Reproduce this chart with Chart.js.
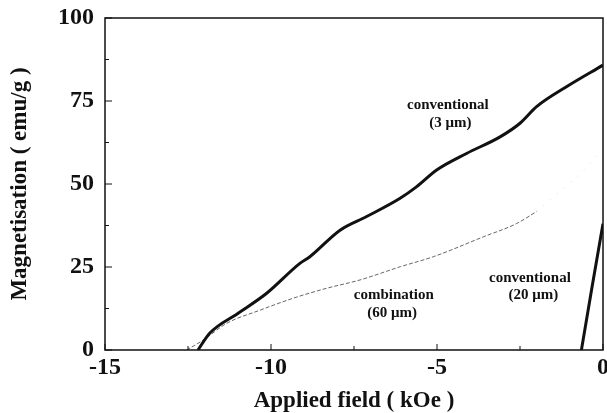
<!DOCTYPE html>
<html lang="en">
<head>
    <meta charset="UTF-8">
    <title>Magnetisation vs applied field</title>
    <script src="https://cdn.jsdelivr.net/npm/chart.js"></script>
    <style>
        html, body { margin: 0; padding: 0; background: #fff; }
        .chart-container { width: 607px; height: 413px; position: relative; }
    </style>
</head>
<body>
    <div class="chart-container">
        <canvas id="magChart"></canvas>
    </div>

    <script>
        // Curves (x in kOe, y in emu/g)
        var conv3X = [-12.2, -11.84, -11.0, -10.13, -9.13, -8.83, -7.92, -7.12, -6.11, -5.61, -5.01, -4.11, -3.1, -2.5, -2.0, -1.1, 0];
        var conv3Y = [0, 5.1, 11.0, 17.1, 26.1, 28.1, 36.1, 40.2, 45.7, 49.2, 54.2, 59.2, 64.2, 68.3, 73.3, 79.3, 85.8];

        var combX = [-12.54, -12.04, -11.34, -10.33, -9.33, -8.32, -7.32, -6.1, -5.11, -3.6, -2.6, -2.0];
        var combY = [0, 3.0, 8.0, 12.0, 15.6, 18.6, 21.1, 25.1, 28.1, 34.1, 38.1, 41.7];

        // faint tail of the combination curve
        var combTailX = [-2.0, -0.64, -0.03];
        var combTailY = [41.7, 53.3, 60.2];

        var conv20X = [-0.65, -0.33, 0];
        var conv20Y = [0, 19, 38];

        var yTicks = [0, 25, 50, 75, 100];
        var xTicks = [-15, -10, -5, 0];

        // curve labels, in data coordinates
        var labels = [
            { text: 'conventional', x: -4.67, y: 73.8 },
            { text: '(3 \u03bcm)', x: -4.6, y: 68.4 },
            { text: 'combination', x: -6.3, y: 16.6 },
            { text: '(60 \u03bcm)', x: -6.35, y: 11.2 },
            { text: 'conventional', x: -2.2, y: 21.7 },
            { text: '(20 \u03bcm)', x: -2.1, y: 16.6 }
        ];

        function toPoints(xs, ys) {
            return xs.map(function(x, i) { return { x: x, y: ys[i] }; });
        }

        var serif = "'Liberation Serif', 'Times New Roman', serif";

        // box around the plot plus inward tick marks
        var framePlugin = {
            id: 'frame',
            afterDatasetsDraw: function(chart) {
                var ctx = chart.ctx;
                var a = chart.chartArea;
                var xs = chart.scales.x, ys = chart.scales.y;
                ctx.save();
                ctx.strokeStyle = '#111';
                ctx.lineWidth = 1.5;
                ctx.strokeRect(a.left, a.top, a.right - a.left, a.bottom - a.top);
                ctx.lineWidth = 1;
                var v, p;
                for (v = 0; v <= 100; v += 12.5) {
                    p = ys.getPixelForValue(v);
                    ctx.beginPath();
                    ctx.moveTo(a.left, p);
                    ctx.lineTo(a.left + (v % 25 === 0 ? 7 : 4), p);
                    ctx.stroke();
                }
                for (v = -15; v <= 0; v += 2.5) {
                    p = xs.getPixelForValue(v);
                    ctx.beginPath();
                    ctx.moveTo(p, a.bottom);
                    ctx.lineTo(p, a.bottom - (v % 5 === 0 ? 6 : 4));
                    ctx.stroke();
                }
                // curve labels
                ctx.fillStyle = '#111';
                ctx.font = 'bold 15px ' + serif;
                ctx.textAlign = 'center';
                ctx.textBaseline = 'middle';
                labels.forEach(function(l) {
                    ctx.fillText(l.text, xs.getPixelForValue(l.x), ys.getPixelForValue(l.y));
                });
                ctx.restore();
            }
        };

        var ctx = document.getElementById('magChart').getContext('2d');

        new Chart(ctx, {
            type: 'scatter',
            data: {
                datasets: [
                    {
                        label: 'conventional (3 um)',
                        data: toPoints(conv3X, conv3Y),
                        showLine: true,
                        borderColor: '#111',
                        borderWidth: 3,
                        pointRadius: 0,
                        cubicInterpolationMode: 'monotone'
                    },
                    {
                        label: 'combination (60 um)',
                        data: toPoints(combX, combY),
                        showLine: true,
                        borderColor: '#666',
                        borderWidth: 1,
                        borderDash: [4, 2],
                        pointRadius: 0,
                        cubicInterpolationMode: 'monotone'
                    },
                    {
                        label: 'combination tail',
                        data: toPoints(combTailX, combTailY),
                        showLine: true,
                        borderColor: '#d8d8d8',
                        borderWidth: 1,
                        borderDash: [1, 8],
                        pointRadius: 0
                    },
                    {
                        label: 'conventional (20 um)',
                        data: toPoints(conv20X, conv20Y),
                        showLine: true,
                        borderColor: '#111',
                        borderWidth: 3,
                        pointRadius: 0
                    }
                ]
            },
            options: {
                responsive: true,
                maintainAspectRatio: false,
                animation: false,
                layout: { padding: { left: 0, top: 18, right: 4, bottom: 0 } },
                plugins: {
                    legend: { display: false },
                    tooltip: { enabled: false }
                },
                scales: {
                    x: {
                        type: 'linear',
                        min: -15,
                        max: 0,
                        grid: { display: false, drawTicks: false },
                        border: { display: false },
                        afterBuildTicks: function(scale) {
                            scale.ticks = xTicks.map(function(v) { return { value: v }; });
                        },
                        afterFit: function(scale) {
                            scale.height = 63;
                            scale.paddingLeft = 0;
                            scale.paddingRight = 0;
                        },
                        ticks: {
                            color: '#111',
                            padding: 3,
                            maxRotation: 0,
                            font: { family: serif, size: 24, weight: 'bold' }
                        },
                        title: {
                            display: true,
                            text: 'Applied field ( kOe )',
                            color: '#111',
                            padding: 0,
                            font: { family: serif, size: 23, weight: 'bold', lineHeight: 1 }
                        }
                    },
                    y: {
                        min: 0,
                        max: 100,
                        grid: { display: false, drawTicks: false },
                        border: { display: false },
                        afterBuildTicks: function(scale) {
                            scale.ticks = yTicks.map(function(v) { return { value: v }; });
                        },
                        afterFit: function(scale) {
                            scale.width = 105;
                            scale.paddingTop = 0;
                            scale.paddingBottom = 0;
                        },
                        ticks: {
                            color: '#111',
                            padding: 11,
                            font: { family: serif, size: 24, weight: 'bold' }
                        },
                        title: {
                            display: true,
                            text: 'Magnetisation ( emu/g )',
                            color: '#111',
                            padding: { top: 9, bottom: 0 },
                            font: { family: serif, size: 23, weight: 'bold', lineHeight: 1 }
                        }
                    }
                }
            },
            plugins: [framePlugin]
        });
    </script>
</body>
</html>
